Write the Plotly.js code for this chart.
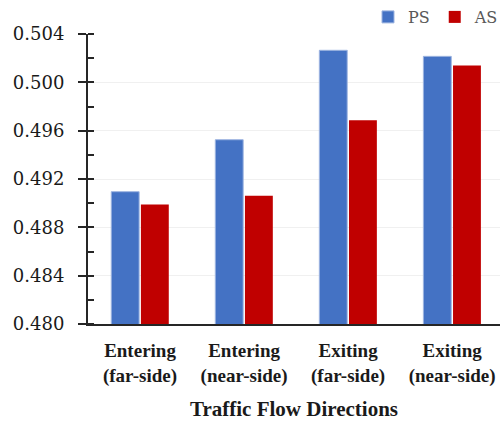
<!DOCTYPE html>
<html>
<head>
<meta charset="utf-8">
<script src="https://cdn.plot.ly/plotly-3.0.1.min.js"></script>
<style>html,body{margin:0;padding:0;background:#fff}#chart{width:504px;height:421px}</style>
</head>
<body>
<div id="chart"></div>
<script>
const categories = ["Entering<br>(far-side)", "Entering<br>(near-side)", "Exiting<br>(far-side)", "Exiting<br>(near-side)"];
const psValues = [0.49095, 0.49525, 0.50265, 0.50215];
const asValues = [0.4899, 0.49062, 0.49687, 0.50139];
const yTickVals = [0.480, 0.484, 0.488, 0.492, 0.496, 0.500, 0.504];
const yTickText = ["0.480", "0.484", "0.488", "0.492", "0.496", "0.500", "0.504"];

const FONT = "Liberation Serif";
const FONT_REG = "DejaVu Serif";

const traces = [
  {type: "bar", name: "PS", x: [0,1,2,3], y: psValues,
   marker: {color: "#4472C4", line: {color: "#9DB4E0", width: 1}}},
  {type: "bar", name: "AS", x: [0,1,2,3], y: asValues,
   marker: {color: "#C00000", line: {width: 0}}}
];

const layout = {
  width: 504, height: 421,
  margin: {l: 88, r: 0, t: 32, b: 97, pad: 0},
  paper_bgcolor: "#fff", plot_bgcolor: "#fff",
  font: {family: FONT, color: "#1a1a1a"},
  barmode: "group", bargap: 0.43, bargroupgap: 0.06,
  showlegend: true,
  legend: {orientation: "h", x: 1.01, xanchor: "right", y: 1.0, yanchor: "bottom",
           font: {family: FONT_REG, size: 16, color: "#595959"}, itemwidth: 30,
           traceorder: "normal", bgcolor: "rgba(0,0,0,0)"},
  xaxis: {
    range: [-0.5, 3.46], tickmode: "array", tickvals: [0,1,2,3], ticktext: categories,
    tickfont: {family: FONT, size: 19, color: "#1a1a1a", weight: "bold"},
    ticklabelstandoff: 8,
    showline: true, linecolor: "#262626", linewidth: 2, ticks: "", showgrid: false,
    zeroline: false, fixedrange: true,
    title: {text: "<b>Traffic Flow Directions</b>", font: {family: FONT, size: 21, color: "#1a1a1a"}, standoff: 16}
  },
  yaxis: {
    range: [0.480, 0.504], tickmode: "array", tickvals: yTickVals, ticktext: yTickText,
    tickfont: {family: FONT_REG, size: 18, color: "#1a1a1a"},
    showline: true, linecolor: "#262626", linewidth: 2,
    ticks: "outside", ticklen: 8, tickwidth: 2, tickcolor: "#262626",
    ticklabelstandoff: 10,
    minor: {tickmode: "linear", tick0: 0.480, dtick: 0.002, ticks: "inside", ticklen: 6, tickwidth: 2, tickcolor: "#262626", showgrid: false},
    showgrid: true, gridcolor: "#f0f0f0", gridwidth: 1, zeroline: false
  },
  yaxis2: {
    overlaying: "y", side: "left", anchor: "x", range: [0.480, 0.504],
    tickmode: "array", tickvals: yTickVals,
    ticks: "inside", ticklen: 6, tickwidth: 2, tickcolor: "#262626",
    showticklabels: false, showgrid: false, zeroline: false, showline: false
  }
};

Plotly.newPlot("chart", traces, layout, {staticPlot: true, displayModeBar: false});
</script>
</body>
</html>
